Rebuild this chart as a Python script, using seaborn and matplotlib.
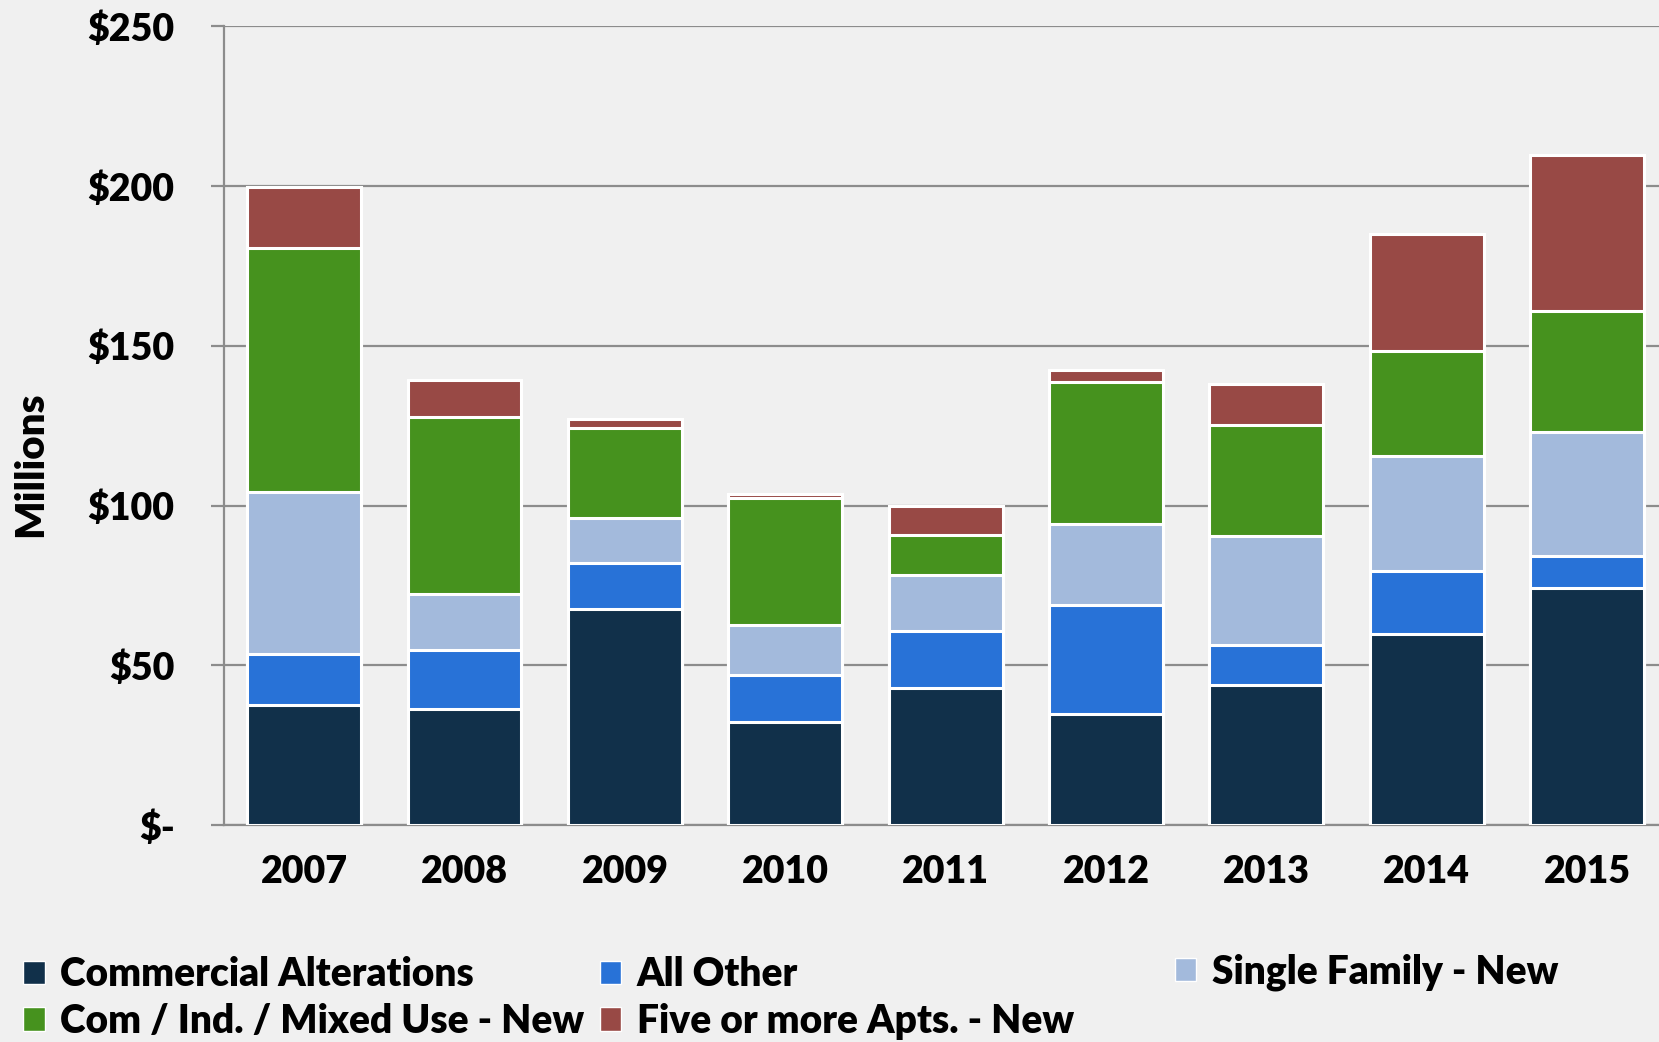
import numpy as np
import pandas as pd
import seaborn as sns
import matplotlib.pyplot as plt
from matplotlib.patches import Patch

years = ['2007', '2008', '2009', '2010', '2011', '2012', '2013', '2014', '2015']
commercial_alt = [37.7, 36.4, 67.8, 32.4, 43.0, 34.7, 44.0, 59.9, 74.1]
all_other = [15.9, 18.5, 14.2, 14.6, 17.8, 34.1, 12.5, 19.5, 10.2]
single_family = [50.6, 17.5, 14.2, 15.5, 17.6, 25.4, 34.1, 36.0, 38.7]
com_ind_mixed = [76.4, 55.2, 28.1, 40.0, 12.5, 44.4, 34.7, 33.1, 38.0]
five_plus_apts = [19.1, 11.6, 2.7, 1.0, 9.0, 3.9, 12.6, 36.4, 48.7]

series = ['Commercial Alterations', 'All Other', 'Single Family - New',
          'Com / Ind. / Mixed Use - New', 'Five or more Apts. - New']
colors = ['#11304a', '#2872d7', '#a3badc', '#46921e', '#984945']

df = pd.DataFrame({'year': years,
                   series[0]: commercial_alt, series[1]: all_other,
                   series[2]: single_family, series[3]: com_ind_mixed,
                   series[4]: five_plus_apts})
cum = df[series].cumsum(axis=1)

sns.set_style('white')
plt.rcParams['font.family'] = ['Lato', 'DejaVu Sans']
plt.rcParams['text.color'] = 'black'
plt.rcParams['axes.labelcolor'] = 'black'
plt.rcParams['xtick.labelcolor'] = 'black'
plt.rcParams['ytick.labelcolor'] = 'black'
W = 'heavy'
bg = '#f0f0f0'

fig = plt.figure(figsize=(16.59, 10.42), dpi=100, facecolor=bg)
ax = fig.add_axes([0.135, 0.208, 0.870, 0.767])
ax.set_facecolor(bg)

# stacked look: draw cumulative totals from the top segment down
for s, c in reversed(list(zip(series, colors))):
    sns.barplot(x=df['year'], y=cum[s], color=c, saturation=1, width=0.71,
                edgecolor='white', linewidth=2.2, ax=ax, zorder=3)

ax.set_ylim(0, 250)
ax.set_xlim(-0.5, 8.5)
ticks = [0, 50, 100, 150, 200, 250]
ax.set_yticks(ticks)
ax.set_yticklabels(['$-'] + [f'${t}' for t in ticks[1:]])
ax.yaxis.grid(True, color='#8c8c8c', linewidth=1.6, zorder=0)
ax.set_axisbelow(True)

for sp in ['top', 'right']:
    ax.spines[sp].set_visible(False)
for sp in ['left', 'bottom']:
    ax.spines[sp].set_color('#8c8c8c')
    ax.spines[sp].set_linewidth(1.6)

ax.tick_params(axis='y', which='major', left=True, length=9.5, width=1.6,
               color='#8c8c8c', pad=26, labelsize=27)
ax.tick_params(axis='x', bottom=False, pad=18, labelsize=27)
for lab in ax.get_xticklabels() + ax.get_yticklabels():
    lab.set_fontweight(W)

ax.set_xlabel('')
ax.set_ylabel('Millions', fontsize=29, fontweight=W)
ax.yaxis.set_label_coords(-0.121, 0.452)

handles = [Patch(facecolor=c, edgecolor='white', linewidth=1) for c in colors]
leg_kw = dict(frameon=False, prop={'size': 28, 'weight': W},
              handlelength=0.55, handleheight=0.55, handletextpad=0.4,
              labelspacing=0.25, borderaxespad=0, borderpad=0)
fig.legend([handles[0], handles[3], handles[1], handles[4]],
           [series[0], series[3], series[1], series[4]], ncol=2,
           loc='lower left', bbox_to_anchor=(0.014, 0.002), columnspacing=0.4,
           **leg_kw)
fig.legend([handles[2]], [series[2]], loc='lower left',
           bbox_to_anchor=(0.708, 0.049), **leg_kw)

fig.savefig('out.png', dpi=100, facecolor=bg)
